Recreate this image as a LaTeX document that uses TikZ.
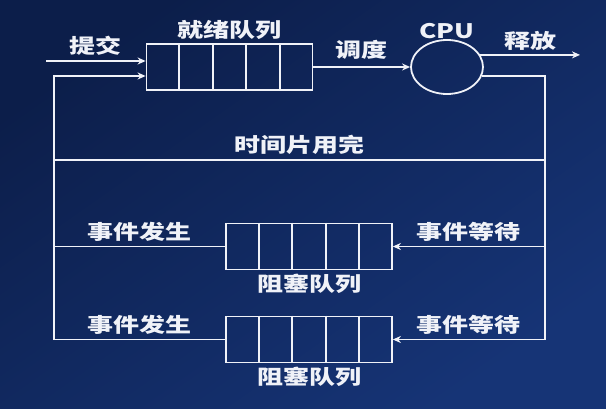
\documentclass[tikz,border=0pt]{standalone}
\usepackage{fontspec}
\setmainfont{Noto Sans CJK SC}[FakeStretch=1.3]
\usetikzlibrary{positioning,arrows.meta,calc,shapes.geometric}
\definecolor{navyA}{RGB}{12,30,74}
\definecolor{navyB}{RGB}{22,52,118}
\definecolor{wire}{RGB}{240,242,248}

\begin{document}
\begin{tikzpicture}[x=1pt,y=-1pt,>={Stealth[length=8pt,width=7pt]},
 every node/.style={font=\fontsize{20}{20}\selectfont\bfseries,text=wire},
 ln/.style={draw=wire,line width=1.8pt},
 qbox/.style={draw=wire,line width=1.8pt,minimum width=166pt,minimum height=46pt,inner sep=0pt},
 proc/.style={ellipse,draw=wire,line width=1.8pt,minimum width=72pt,minimum height=54pt,inner sep=0pt}]
\newcommand{\PQueue}[3]{\node[qbox] (#1) at (#2,#3) {};
 \foreach \k in {1,...,4} \draw[ln] ($(#1.north west)!\k/5!(#1.north east)$) -- ($(#1.south west)!\k/5!(#1.south east)$);}
\shade[top color=navyA,bottom color=navyB,shading angle=35] (0,0) rectangle (606,409);
% queues and cpu
\PQueue{Rq}{229.5}{67}
\node[proc] (Cpu) at (447,67) {};
\PQueue{Bq1}{309}{246.5}
\PQueue{Bq2}{309}{339.5}
\node[above=0pt of Rq] (Rq-t) {就绪队列};
\node[above=-3pt of Cpu] (Cpu-t) {CPU};
\node[below=0pt of Bq1] (Bq1-t) {阻塞队列};
\node[below=0pt of Bq2] (Bq2-t) {阻塞队列};
\coordinate (In) at (46,61);\coordinate (Fb) at (54,76);
\coordinate (Out) at (580,55);\coordinate (Rt) at (545,76);\coordinate (Ts) at (54,160);
% flow
\draw[ln,->] (In) -- node[above=1pt] (Sub) {提交} (In -| Rq.west);
\draw[ln,->] (Rq.east) -- node[above=3pt] (Disp) {调度} (Cpu.west);
\draw[ln,->] (Cpu.20) -- node[above=0pt] (Rel) {释放} (Out |- Cpu.20);
\draw[ln] (Cpu.-15) -| (Rt |- Bq2.east);
\draw[ln] (Ts) -- node[above=1pt] (Tq) {时间片用完} (Rt |- Ts);
\draw[ln,->] (Rt |- Bq1.east) -- node[above=1pt] (Wt1) {事件等待} (Bq1.east);
\draw[ln,->] (Rt |- Bq2.east) -- node[above=1pt] (Wt2) {事件等待} (Bq2.east);
\draw[ln] (Bq1.west) -- node[above=1pt] (Ev1) {事件发生} (Fb |- Bq1.west);
\draw[ln,->] (Bq2.west) -- node[above=1pt] (Ev2) {事件发生} (Fb |- Bq2.west) -- (Fb) -- (Fb -| Rq.west);
\end{tikzpicture}
\end{document}
